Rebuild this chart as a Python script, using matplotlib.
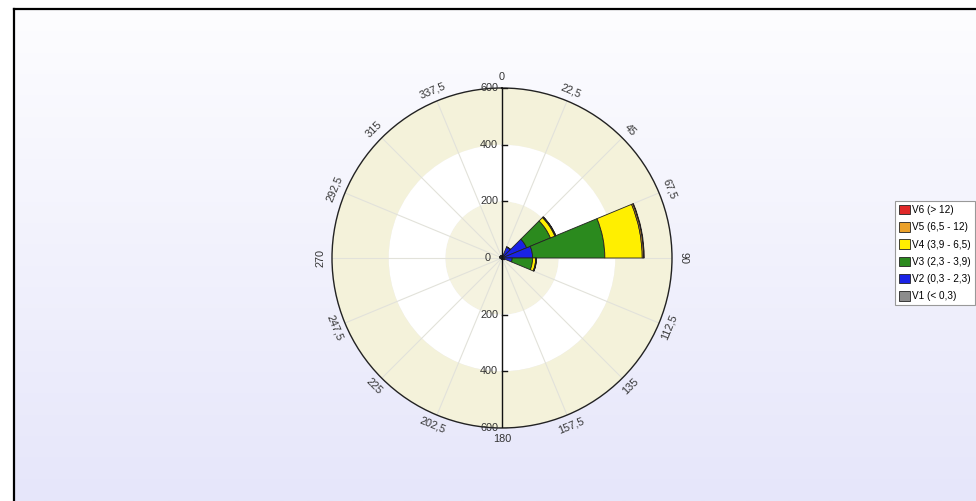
import numpy as np
import matplotlib
matplotlib.use("Agg")
import matplotlib.pyplot as plt

plt.rcParams['font.family'] = ['Liberation Sans', 'DejaVu Sans']

# 16 direction sectors, starting at 0-22.5 going clockwise
directions = np.arange(0, 360, 22.5)
dir_labels = ["0", "22,5", "45", "67,5", "90", "112,5", "135", "157,5",
              "180", "202,5", "225", "247,5", "270", "292,5", "315", "337,5"]

# stacked class values per sector (V1 .. V6)
v1 = [6, 6, 6, 6, 6, 5, 4, 3, 3, 3, 3, 4, 5, 5, 5, 6]
v2 = [4, 36, 88, 102, 30, 4, 2, 1, 1, 1, 1, 2, 3, 3, 3, 3]
v3 = [0, 0, 91, 255, 72, 0, 0, 0, 0, 0, 0, 0, 0, 0, 0, 0]
v4 = [0, 0, 17, 132, 11, 0, 0, 0, 0, 0, 0, 0, 0, 0, 0, 0]
v5 = [0, 0, 3, 5, 2, 0, 0, 0, 0, 0, 0, 0, 0, 0, 0, 0]
v6 = [0, 0, 1, 2, 1, 0, 0, 0, 0, 0, 0, 0, 0, 0, 0, 0]
series = [v1, v2, v3, v4, v5, v6]
names = ["V1 (< 0,3)", "V2 (0,3 - 2,3)", "V3 (2,3 - 3,9)",
         "V4 (3,9 - 6,5)", "V5 (6,5 - 12)", "V6 (> 12)"]
colors = ["#8c8c8c", "#1a22e6", "#2b8a1e", "#ffef00", "#eba12a", "#e02828"]

r_ticks = [200, 400, 600]
band_edges = [0, 200, 400, 600]
band_colors = ["#f5f3e0", "#ffffff", "#f4f2da"]

fig = plt.figure(figsize=(9.76, 5.01), dpi=100)
fig.patch.set_facecolor("white")

# background gradient and frame
bg = fig.add_axes([0, 0, 1, 1], zorder=-10)
grad = np.linspace(0, 1, 256)[:, None]
top = np.array([253, 253, 255]) / 255
bot = np.array([230, 230, 250]) / 255
img = top[None, None, :] * (1 - grad[..., None]) + bot[None, None, :] * grad[..., None]
bg.imshow(img, extent=[14, 976, 501, 9], aspect="auto")
bg.plot([14, 14], [9, 501], color="black", lw=1.6)
bg.plot([14, 976], [9, 9], color="black", lw=1.6)
bg.set_xlim(0, 976)
bg.set_ylim(501, 0)
bg.axis("off")

pos = [(502 - 170) / 976, (501 - 258 - 170) / 501, 340 / 976, 340 / 501]
ax = fig.add_axes(pos, projection="polar")
ax.set_facecolor("none")
ax.set_theta_zero_location("N")
ax.set_theta_direction(-1)
ax.set_ylim(0, 600)

for lo, hi, c in zip(band_edges[:-1], band_edges[1:], band_colors):
    ax.bar(np.pi, hi - lo, width=2 * np.pi, bottom=lo, color=c, edgecolor="none", zorder=0)

theta = np.deg2rad(directions + 11.25)
width = np.deg2rad(22.5)
bottom = np.zeros(16)
handles = []
for vals, name, c in zip(series, names, colors):
    vals = np.array(vals, dtype=float)
    b = ax.bar(theta, vals, width=width, bottom=bottom, color=c,
               edgecolor="#222222", linewidth=0.6, label=name, zorder=3)
    handles.append(b)
    bottom = bottom + vals

ax.set_xticks(np.deg2rad(directions))
ax.set_xticklabels([])
ax.set_yticks([])
ax.xaxis.grid(True, color="#e2e2da", lw=0.8)
ax.yaxis.grid(False)
ax.tick_params(axis="x", length=3, width=0.8, direction="out", color="#333333")
ax.spines["polar"].set_color("#222222")
ax.spines["polar"].set_linewidth(1.0)

for d, lab in zip(directions, dir_labels):
    if d <= 90:
        rot = -d
    elif d < 270:
        rot = 180 - d
    else:
        rot = 360 - d
    ax.text(np.deg2rad(d), 640, lab, rotation=rot, ha="center", va="center",
            fontsize=7.8, color="#333333", rotation_mode="anchor")

# radial axis drawn as vertical line
ax2 = fig.add_axes(pos)
ax2.set_xlim(-600, 600)
ax2.set_ylim(-600, 600)
ax2.axis("off")
ax2.plot([0, 0], [-600, 600], color="#111111", lw=1.0)
for r in r_ticks:
    for s in (1, -1):
        ax2.plot([0, 18], [s * r, s * r], color="#111111", lw=1.0)
        ax2.text(-14, s * r, str(r), ha="right", va="center", fontsize=7.8, color="#333333")
ax2.text(-40, 0, "0", ha="right", va="center", fontsize=7.8, color="#333333")

leg = fig.legend(handles[::-1], names[::-1], loc="upper left",
                 bbox_to_anchor=(895 / 976, 1 - 201 / 501), fontsize=7.2,
                 frameon=True, fancybox=False, edgecolor="#999999", framealpha=1,
                 handlelength=1.05, handleheight=1.05, handletextpad=0.3,
                 labelspacing=0.72, borderpad=0.4, borderaxespad=0)
leg.get_frame().set_linewidth(0.8)

fig.savefig("out.png", dpi=100)
